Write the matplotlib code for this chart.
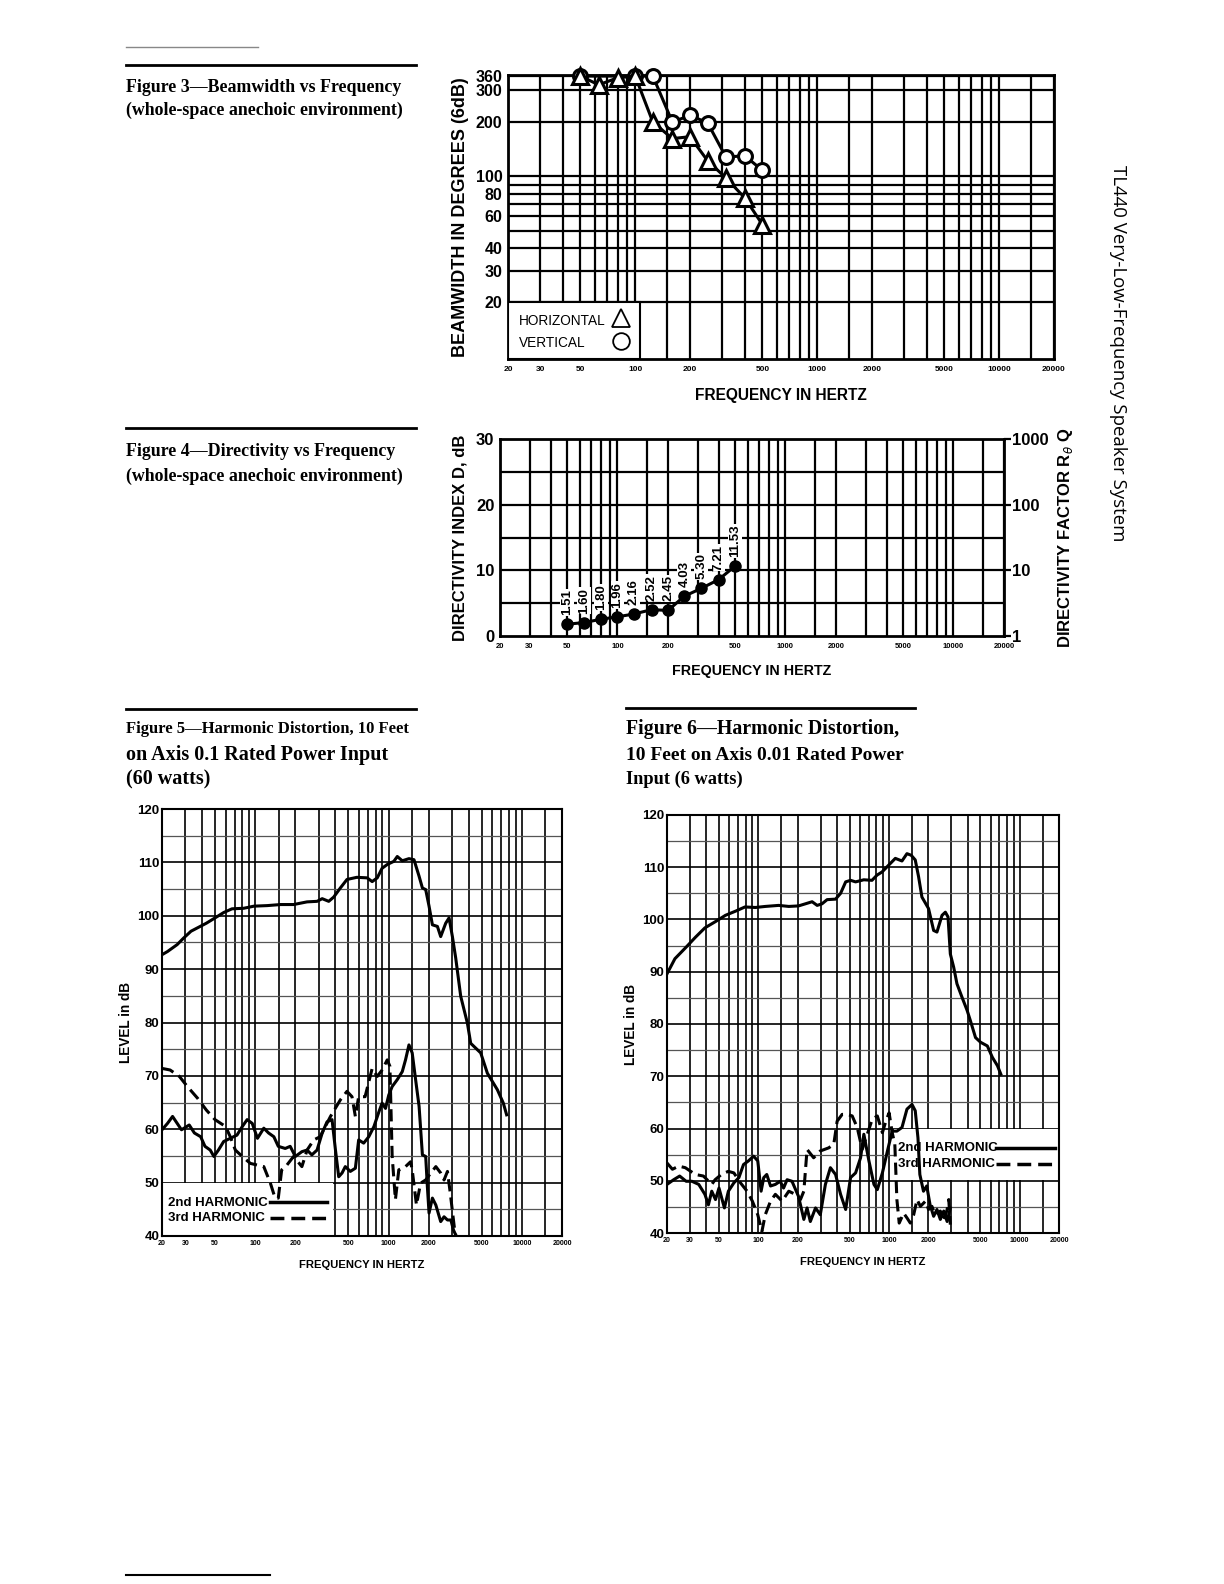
import matplotlib
matplotlib.use("Agg")
import matplotlib.pyplot as plt
from matplotlib.lines import Line2D
from matplotlib.patches import Rectangle
from matplotlib.ticker import FixedLocator, FixedFormatter, NullFormatter

plt.rcParams['font.family'] = ['Liberation Sans', 'DejaVu Sans']

W, H = 1224, 1584

# ---- Figure 3: beamwidth vs frequency ----
bw_freq_h = [50, 63, 80, 100, 125, 160, 200, 250, 315, 400, 500]
bw_horiz = [360, 322, 352, 360, 200, 162, 166, 122, 98, 76, 54]
bw_freq_v = [50, 100, 125, 160, 200, 250, 315, 400, 500]
bw_vert = [360, 360, 360, 200, 218, 198, 128, 130, 108]
bw_ticks = [20, 30, 40, 60, 80, 100, 200, 300, 360]

# ---- Figure 4: directivity ----
di_freq = [50, 63, 80, 100, 125, 160, 200, 250, 315, 400, 500]
di_q = [1.51, 1.60, 1.80, 1.96, 2.16, 2.52, 2.45, 4.03, 5.30, 7.21, 11.53]

freq_ticks = [20, 30, 50, 100, 200, 500, 1000, 2000, 5000, 10000, 20000]

# ---- Figure 5: harmonic distortion, 60 W ----
f5_resp_f = [20, 22, 26, 29, 33, 38, 43, 50, 58, 67, 82, 98, 123, 155, 194, 245, 291, 318,
             356, 388, 435, 488, 579, 691, 754, 823, 895, 978, 1097, 1163, 1268, 1423, 1552,
             1695, 1795, 1900, 2013, 2133, 2326, 2462, 2684, 2844, 3013, 3190, 3479, 3902,
             4134, 4914, 5512, 6552, 7260, 7689]
f5_resp_db = [92.7, 93.3, 94.6, 95.8, 97.1, 97.9, 98.6, 99.6, 100.6, 101.3, 101.4, 101.8,
              101.9, 102.1, 102.1, 102.6, 102.7, 103.2, 102.7, 103.5, 105.2, 106.8, 107.2,
              107.1, 106.4, 107.1, 108.9, 109.6, 110.2, 111.1, 110.3, 110.7, 110.5, 107.4,
              105.2, 104.9, 101.8, 98.3, 98.0, 96.1, 98.6, 99.6, 96.1, 92.1, 84.9, 79.9,
              76.1, 74.3, 70.5, 67.4, 64.9, 62.7]
f5_h2_f = [20, 22, 24, 26, 28, 32, 35, 39, 42, 46, 49, 53, 58, 65, 73, 80, 87, 95, 104, 116,
           126, 138, 149, 168, 183, 200, 224, 245, 266, 291, 318, 346, 377, 400, 423, 448,
           474, 517, 564, 597, 651, 711, 777, 848, 895, 949, 1004, 1065, 1163, 1268, 1341,
           1423, 1505, 1596, 1695, 1795, 1900, 1955, 2013, 2133, 2264, 2462, 2609, 2767,
           2934, 3072, 3190]
f5_h2_db = [59.9, 61.1, 62.4, 61.1, 59.9, 60.8, 59.3, 58.6, 56.8, 56.1, 54.9, 56.1, 57.7,
            58.3, 58.9, 60.5, 61.8, 61.1, 58.3, 60.2, 59.3, 58.6, 56.8, 56.4, 56.8, 54.9,
            55.8, 56.1, 55.2, 56.1, 59.3, 61.4, 61.8, 56.1, 51.1, 51.8, 53.0, 52.1, 52.7,
            58.0, 57.4, 58.6, 60.5, 63.3, 64.9, 63.9, 66.4, 68.0, 69.3, 70.8, 73.0, 75.8,
            74.3, 69.3, 64.3, 55.2, 54.9, 49.3, 44.3, 47.1, 45.8, 42.7, 43.6, 43.0, 43.0,
            41.1, 40.2]
f5_h3_f = [20, 23, 27, 31, 37, 43, 50, 60, 65, 71, 80, 92, 116, 130, 141, 149, 158, 173,
           194, 224, 245, 275, 307, 367, 435, 488, 532, 564, 597, 667, 754, 823, 895, 978,
           1024, 1065, 1126, 1194, 1341, 1462, 1505, 1620, 1739, 1900, 2074, 2264, 2462,
           2609, 2767, 2896, 3109, 3190]
f5_h3_db = [71.4, 71.1, 69.9, 68.0, 65.8, 63.6, 61.8, 60.5, 58.6, 56.1, 54.9, 53.6, 53.0,
            49.9, 47.1, 47.1, 52.4, 53.3, 54.9, 53.0, 56.1, 58.0, 58.6, 62.4, 65.5, 67.1,
            66.1, 62.4, 66.1, 66.1, 71.4, 69.9, 71.1, 73.0, 71.8, 54.9, 46.8, 52.4, 53.0,
            53.9, 52.4, 45.8, 49.9, 50.5, 51.8, 53.0, 51.8, 50.5, 52.1, 48.3, 41.8, 40.2]

# ---- Figure 6: harmonic distortion, 6 W ----
f6_resp_f = [20, 23, 28, 33, 39, 47, 56, 67, 79, 95, 113, 143, 171, 203, 229, 258, 282, 307,
             336, 390, 426, 466, 508, 555, 641, 741, 810, 885, 994, 1118, 1257, 1372, 1478,
             1588, 1684, 1786, 2007, 2196, 2328, 2546, 2700, 2829, 2947, 3124, 3312, 3623,
             3962, 4201, 4594, 5024, 5658, 6187, 6766, 7175]
f6_resp_db = [89.6, 92.5, 94.7, 96.6, 98.4, 99.6, 100.8, 101.6, 102.4, 102.3, 102.5, 102.7,
              102.5, 102.6, 103.0, 103.4, 102.7, 103.0, 103.8, 103.9, 105.0, 107.2, 107.5,
              107.2, 107.6, 107.5, 108.5, 109.1, 110.4, 111.7, 111.2, 112.6, 112.3, 111.4,
              108.2, 104.3, 102.1, 97.9, 97.6, 100.8, 101.4, 100.5, 93.4, 90.9, 87.7, 85.1,
              82.6, 80.6, 77.4, 76.5, 75.8, 73.6, 72.0, 70.4]
f6_h2_f = [20, 22.5, 25, 28, 31, 35, 39, 41.5, 44, 47, 50, 55, 59, 65, 71, 77, 84, 92, 99,
           105, 110, 116, 124, 135, 147, 156, 166, 181, 203, 223, 236, 250, 274, 298, 326,
           356, 390, 426, 466, 508, 555, 606, 642, 702, 767, 814, 890, 973, 1058, 1149,
           1257, 1372, 1500, 1588, 1666, 1722, 1836, 1945, 2062, 2196, 2328, 2471, 2624,
           2785, 2947]
f6_h2_db = [49.3, 50.2, 50.9, 49.9, 49.9, 49.3, 47.4, 45.4, 48.0, 46.4, 48.6, 44.8, 48.0,
            49.6, 50.6, 53.1, 53.8, 54.7, 53.8, 48.0, 50.6, 51.2, 49.0, 49.3, 49.9, 48.6,
            50.2, 49.9, 47.0, 42.6, 44.8, 42.2, 44.8, 43.5, 49.3, 52.5, 51.2, 47.4, 44.5,
            50.6, 51.5, 54.4, 58.9, 53.8, 49.3, 48.3, 51.5, 55.7, 59.5, 59.5, 60.2, 63.7,
            64.6, 63.4, 58.2, 51.2, 48.0, 49.0, 45.4, 43.2, 44.5, 42.6, 44.2, 42.2, 44.8]
f6_h3_f = [20, 22, 24.6, 27.6, 33, 38, 44, 46.7, 52.7, 59, 65, 73, 82, 90, 99, 106.5, 113,
           124, 135, 152, 171, 192, 210, 223, 236, 265, 298, 346, 378, 401, 438, 479, 523,
           571, 624, 682, 745, 814, 890, 946, 1002, 1058, 1108, 1149, 1197, 1294, 1372,
           1456, 1545, 1639, 1739, 1903, 2007, 2131, 2262, 2471, 2624, 2785, 2867, 2947]
f6_h3_db = [53.4, 52.2, 52.8, 52.5, 51.2, 50.9, 49.3, 50.2, 51.3, 51.8, 51.5, 49.6, 48.0,
            46.1, 43.5, 40.3, 43.5, 46.1, 47.4, 46.1, 48.0, 47.4, 46.4, 48.0, 56.0, 54.4,
            55.7, 56.3, 57.0, 61.4, 62.7, 62.7, 62.4, 60.2, 56.0, 58.9, 61.8, 62.4, 59.2,
            61.4, 63.0, 59.2, 57.0, 46.4, 41.9, 43.8, 42.9, 41.9, 43.5, 46.4, 45.1, 46.1,
            44.5, 45.1, 43.5, 44.2, 42.2, 44.5, 46.4, 41.6]

level_ticks = [40, 50, 60, 70, 80, 90, 100, 110, 120]

fig = plt.figure(figsize=(W / 100, H / 100), dpi=100)


def px_axes(left, top, right, bottom):
    return fig.add_axes([left / W, 1 - bottom / H, (right - left) / W, (bottom - top) / H])


def ftext(x, y, s, **kw):
    fig.text(x / W, 1 - y / H, s, **kw)


def rule(x0, x1, y, lw=2.0, color='black'):
    fig.add_artist(Line2D([x0 / W, x1 / W], [1 - y / H, 1 - y / H], lw=lw, color=color))


# log paper lines: 1, 1.5, 2 ... 9 in every decade
x_grid = [m * d for d in (10, 100, 1000, 10000) for m in (1, 1.5, 2, 3, 4, 5, 6, 7, 8, 9)
          if 20 <= m * d <= 20000]


def freq_axis(ax, fs, lw_grid, pad):
    ax.set_xscale('log')
    ax.set_xlim(20, 20000)
    ax.xaxis.set_major_locator(FixedLocator(freq_ticks))
    ax.xaxis.set_major_formatter(FixedFormatter([str(t) for t in freq_ticks]))
    ax.xaxis.set_minor_locator(FixedLocator([]))
    ax.xaxis.set_minor_formatter(NullFormatter())
    ax.tick_params(axis='x', which='both', length=0, labelsize=fs, pad=pad)
    for lab in ax.get_xticklabels():
        lab.set_fontweight('bold')
    for f in x_grid:
        ax.axvline(f, color='black', lw=lw_grid, zorder=1)


serif = ['Liberation Serif', 'DejaVu Serif']

# ---------------- page text ----------------
rule(126, 258, 46.5, lw=1.0, color='#888888')
rule(126, 416, 65, lw=2.0)
ftext(126, 87, 'Figure 3\u2014Beamwidth vs Frequency', family=serif, fontweight='bold',
      fontsize=12.9, va='center')
ftext(126, 110, '(whole-space anechoic environment)', family=serif, fontweight='bold',
      fontsize=12.9, va='center')

rule(126, 416, 428, lw=2.0)
ftext(126, 452, 'Figure 4\u2014Directivity vs Frequency', family=serif, fontweight='bold',
      fontsize=12.9, va='center')
ftext(126, 476, '(whole-space anechoic environment)', family=serif, fontweight='bold',
      fontsize=12.9, va='center')

rule(126, 416, 709, lw=2.0)
ftext(126, 729, 'Figure 5\u2014Harmonic Distortion, 10 Feet', family=serif, fontweight='bold',
      fontsize=12, va='center')
ftext(126, 755, 'on Axis 0.1 Rated Power Input', family=serif, fontweight='bold',
      fontsize=14.5, va='center')
ftext(126, 779, '(60 watts)', family=serif, fontweight='bold', fontsize=14.5, va='center')

rule(626, 915, 708, lw=2.0)
ftext(626, 729, 'Figure 6\u2014Harmonic Distortion,', family=serif, fontweight='bold',
      fontsize=14.3, va='center')
ftext(626, 755, '10 Feet on Axis 0.01 Rated Power', family=serif, fontweight='bold',
      fontsize=14, va='center')
ftext(626, 779, 'Input (6 watts)', family=serif, fontweight='bold', fontsize=13.2, va='center')

ftext(1118, 353, 'TL440 Very-Low-Frequency Speaker System', family=['Open Sans', 'DejaVu Sans'],
      fontsize=13.4, rotation=-90, ha='center', va='center')

rule(126, 270, 1575, lw=1.5)

# ---------------- Figure 3 ----------------
ax3 = px_axes(508, 75, 1054, 359)
freq_axis(ax3, 6, 1.6, 5)
ax3.set_yscale('log')
ax3.set_ylim(9.7, 365)
ax3.yaxis.set_major_locator(FixedLocator(bw_ticks))
ax3.yaxis.set_major_formatter(FixedFormatter([str(t) for t in bw_ticks]))
ax3.yaxis.set_minor_locator(FixedLocator([]))
ax3.tick_params(axis='y', which='both', length=0, labelsize=11.5, pad=4)
for lab in ax3.get_yticklabels():
    lab.set_fontweight('bold')
for v in bw_ticks + [50, 70, 90]:
    ax3.axhline(v, color='black', lw=1.6, zorder=1)
for s in ax3.spines.values():
    s.set_linewidth(2)
ax3.plot(bw_freq_v, bw_vert, color='black', lw=2.2, marker='o', ms=10, mfc='white',
         mec='black', mew=2.2, zorder=5, clip_on=False)
ax3.plot(bw_freq_h, bw_horiz, color='black', lw=2.2, marker='^', ms=11, mfc='white',
         mec='black', mew=2.2, zorder=6, clip_on=False)
ax3.add_patch(Rectangle((0, 0), 0.242, 0.2, transform=ax3.transAxes, facecolor='white',
                        edgecolor='black', lw=1.5, zorder=7))
ax3.text(0.02, 0.135, 'HORIZONTAL', transform=ax3.transAxes, fontsize=9.8, va='center', zorder=8)
ax3.text(0.02, 0.057, 'VERTICAL', transform=ax3.transAxes, fontsize=9.8, va='center', zorder=8)
ax3.plot([0.207], [0.145], transform=ax3.transAxes, marker='^', ms=13, mfc='white', mec='black',
         mew=1.3, zorder=8, clip_on=False)
ax3.plot([0.207], [0.065], transform=ax3.transAxes, marker='o', ms=12, mfc='white', mec='black',
         mew=1.3, zorder=8, clip_on=False)
ax3.set_ylabel('BEAMWIDTH IN DEGREES (6dB)', fontsize=13, fontweight='bold', labelpad=5)
ax3.set_xlabel('FREQUENCY IN HERTZ', fontsize=11.2, fontweight='bold', labelpad=11)

# ---------------- Figure 4 ----------------
ax4 = px_axes(500, 439, 1004, 636)
freq_axis(ax4, 5.5, 1.6, 5)
ax4.set_ylim(0, 30)
ax4.set_yticks([0, 10, 20, 30])
ax4.tick_params(axis='y', length=0, labelsize=12, pad=4)
for lab in ax4.get_yticklabels():
    lab.set_fontweight('bold')
for v in (5, 10, 15, 20, 25):
    ax4.axhline(v, color='black', lw=1.6, zorder=1)
for s in ax4.spines.values():
    s.set_linewidth(2)
ax4.set_ylabel('DIRECTIVITY INDEX D, dB', fontsize=12, fontweight='bold', labelpad=6)
ax4.set_xlabel('FREQUENCY IN HERTZ', fontsize=10.3, fontweight='bold', labelpad=10)

ax4r = ax4.twinx()
ax4r.set_yscale('log')
ax4r.set_ylim(1, 1000)
ax4r.yaxis.set_major_locator(FixedLocator([1, 10, 100, 1000]))
ax4r.yaxis.set_major_formatter(FixedFormatter(['1', '10', '100', '1000']))
ax4r.yaxis.set_minor_locator(FixedLocator([]))
ax4r.tick_params(axis='y', which='major', length=5, width=1.6, labelsize=12, pad=1)
for lab in ax4r.get_yticklabels():
    lab.set_fontweight('bold')
for s in ax4r.spines.values():
    s.set_visible(False)
ax4r.set_ylabel('DIRECTIVITY FACTOR R$_\\theta$ Q', fontsize=12, fontweight='bold', labelpad=5)
ax4r.plot(di_freq, di_q, color='black', lw=2.2, marker='o', ms=8, zorder=5)
for f, q in zip(di_freq, di_q):
    ax4r.annotate(f'{q:.2f}', (f, q), xytext=(0, 6.5), textcoords='offset points', rotation=90,
                  ha='center', va='bottom', fontsize=9.5, fontweight='bold', zorder=6,
                  bbox=dict(facecolor='white', edgecolor='none', pad=0.6))


# ---------------- Figures 5 and 6 ----------------
def level_chart(ax):
    freq_axis(ax, 5, 1.2, 3)
    ax.set_ylim(40, 120)
    ax.set_yticks(level_ticks)
    ax.tick_params(axis='y', length=0, labelsize=9.5, pad=2)
    for lab in ax.get_yticklabels():
        lab.set_fontweight('bold')
    for v in range(45, 120, 5):
        ax.axhline(v, color='black' if v % 10 == 0 else '#555555',
                   lw=1.2 if v % 10 == 0 else 0.9, zorder=1)
    for s in ax.spines.values():
        s.set_linewidth(1.5)
    ax.set_ylabel('LEVEL in dB', fontsize=9.8, fontweight='bold', labelpad=3)
    ax.set_xlabel('FREQUENCY IN HERTZ', fontsize=8.1, fontweight='bold', labelpad=9)


ax5 = px_axes(162, 809, 562, 1236)
level_chart(ax5)
ax5.add_patch(Rectangle((0, 0), 0.4275, 0.1245, transform=ax5.transAxes, facecolor='white',
                        edgecolor='none', zorder=2))
ax5.plot(f5_resp_f, f5_resp_db, color='black', lw=2.2, zorder=5)
ax5.plot(f5_h2_f, f5_h2_db, color='black', lw=2.2, zorder=5)
ax5.plot(f5_h3_f, f5_h3_db, color='black', lw=2.2, ls=(0, (4, 2)), zorder=5)
ax5.text(0.015, 0.078, '2nd HARMONIC', transform=ax5.transAxes, fontsize=9.5,
         fontweight='bold', va='center', zorder=6)
ax5.text(0.015, 0.041, '3rd HARMONIC', transform=ax5.transAxes, fontsize=9.5,
         fontweight='bold', va='center', zorder=6)
ax5.plot([0.27, 0.4125], [0.08, 0.08], transform=ax5.transAxes, color='black', lw=2.5, zorder=6)
ax5.plot([0.27, 0.4125], [0.043, 0.043], transform=ax5.transAxes, color='black', lw=2.5,
         ls=(0, (4, 2)), zorder=6)

ax6 = px_axes(667, 815, 1059, 1233)
level_chart(ax6)
ax6.add_patch(Rectangle((0.58, 0.1265), 0.42, 0.1235, transform=ax6.transAxes,
                        facecolor='white', edgecolor='none', zorder=2))
ax6.plot(f6_resp_f, f6_resp_db, color='black', lw=2.2, zorder=5)
ax6.plot(f6_h2_f, f6_h2_db, color='black', lw=2.2, zorder=5)
ax6.plot(f6_h3_f, f6_h3_db, color='black', lw=2.2, ls=(0, (4, 2)), zorder=5)
ax6.text(0.59, 0.2025, '2nd HARMONIC', transform=ax6.transAxes, fontsize=9.5,
         fontweight='bold', va='center', zorder=6)
ax6.text(0.59, 0.164, '3rd HARMONIC', transform=ax6.transAxes, fontsize=9.5,
         fontweight='bold', va='center', zorder=6)
ax6.plot([0.84, 0.99], [0.2045, 0.2045], transform=ax6.transAxes, color='black', lw=2.5, zorder=6)
ax6.plot([0.84, 0.99], [0.166, 0.166], transform=ax6.transAxes, color='black', lw=2.5,
         ls=(0, (4, 2)), zorder=6)

fig.savefig('out.png', dpi=100, facecolor='white')
